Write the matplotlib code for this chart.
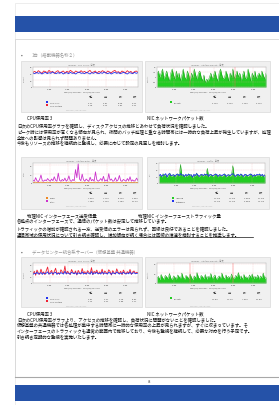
import matplotlib
matplotlib.use('Agg')
import matplotlib.pyplot as plt
import matplotlib.patches as patches
import numpy as np

plt.rcParams['font.family'] = ['Noto Sans CJK JP', 'DejaVu Sans']

W, H = 279, 406

# ---- chart data ----
cpu_user = [44, 47, 42, 49, 45, 41, 48, 46, 43, 50, 44, 47, 41, 46, 49, 43, 45, 48, 42, 47,
            44, 50, 46, 42, 48, 45, 43, 49, 44, 47, 42, 46, 50, 43, 45, 48, 41, 47, 44, 49,
            46, 42, 48, 45, 43, 47, 50, 44, 46, 42, 48, 45, 43, 49, 44, 47, 41, 46, 48, 44]
cpu_sys = [42, 40, 44, 41, 43, 39, 42, 44, 40, 43, 41, 45, 42, 40, 43, 41, 44, 39, 42, 43,
           40, 44, 41, 42, 39, 43, 45, 41, 42, 40, 44, 42, 39, 43, 41, 44, 42, 40, 43, 41,
           45, 42, 40, 43, 39, 42, 44, 41, 43, 40, 42, 44, 41, 39, 43, 42, 40, 44, 41, 43]

nic_pkts = [6, 8, 5, 7, 9, 4, 6, 8, 5, 3, 7, 9, 6, 4, 8, 5, 7, 3, 6, 9,
            5, 4, 8, 6, 3, 7, 5, 9, 6, 4, 7, 8, 5, 3, 6, 2, 4, 3, 5, 7,
            4, 6, 8, 5, 3, 7, 9, 6, 4, 5, 8, 6, 3, 7, 5, 9, 4, 6, 8, 5,
            7, 3, 6, 8, 4, 5, 9, 6, 3, 7, 5, 8, 4, 6, 7, 5, 8, 6, 4, 7]

if_err = [1, 1, 2, 1, 1, 1, 2, 1, 1, 1, 1, 2, 1, 1, 1, 1, 2, 1, 1, 1,
          1, 1, 2, 1, 1, 1, 1, 2, 1, 1, 1, 1, 2, 1, 1, 1, 1, 2, 1, 1,
          1, 1, 2, 1, 1, 1, 1, 2, 1, 1, 1, 1, 2, 1, 1, 1, 1, 2, 1, 1,
          1, 1, 2, 1, 1, 1, 1, 2, 1, 1, 1, 1, 2, 1, 1, 1, 1, 2, 1, 1]
if_bytes = [6, 4, 12, 5, 3, 8, 18, 5, 4, 7, 5, 10, 6, 4, 9, 5, 14, 6, 4, 22,
            6, 4, 8, 5, 11, 4, 7, 16, 5, 4, 8, 5, 30, 12, 43, 9, 5, 20, 7, 4,
            9, 6, 4, 13, 5, 8, 4, 25, 7, 4, 6, 10, 5, 15, 4, 7, 4, 21, 6, 9,
            4, 5, 12, 4, 7, 17, 5, 4, 8, 6, 4, 10, 5, 14, 4, 7, 4, 6, 11, 5]

traffic_in = [10, 12, 9, 14, 11, 13, 8, 12, 15, 10, 11, 13, 9, 12, 14, 10, 28, 11, 13, 9,
              12, 10, 14, 11, 13, 8, 12, 10, 15, 11, 9, 13, 12, 10, 14, 11, 22, 9, 12, 13,
              10, 11, 14, 12, 9, 13, 11, 10, 12, 14, 9, 11, 13, 10, 12, 26, 11, 9, 13, 12,
              10, 14, 11, 9, 12, 13, 10, 11, 14, 12, 9, 13, 10, 12, 11, 14, 10, 12, 9, 13]
traffic_out = [11, 13, 10, 12, 12, 14, 9, 13, 14, 11, 12, 12, 10, 13, 13, 11, 14, 12, 12, 10,
               13, 11, 13, 12, 12, 9, 13, 11, 14, 12, 10, 12, 13, 11, 13, 12, 13, 10, 13, 12,
               11, 12, 13, 13, 10, 12, 12, 11, 13, 13, 10, 12, 12, 11, 13, 14, 12, 10, 12, 13,
               11, 13, 12, 10, 13, 12, 11, 12, 13, 13, 10, 12, 11, 13, 12, 13, 11, 13, 10, 12]

cpu2_user = [30, 38, 25, 42, 33, 28, 45, 31, 36, 27, 40, 52, 29, 35, 41, 26, 37, 48, 30, 34,
             28, 43, 36, 31, 55, 29, 38, 33, 27, 44, 35, 30, 39, 26, 41, 34, 29, 47, 32, 37,
             28, 40, 35, 30, 50, 27, 38, 33, 42, 29, 36, 31, 45, 28, 39, 34, 30, 43, 37, 26,
             40, 33, 29, 46, 35, 31, 38, 27, 42, 34, 30, 37, 32, 44, 28, 36, 39, 31, 35, 33]
cpu2_sys = [28, 32, 30, 35, 29, 31, 34, 28, 33, 30, 32, 36, 29, 31, 34, 30, 33, 35, 28, 32,
            30, 34, 31, 29, 38, 30, 33, 31, 29, 35, 32, 30, 34, 28, 33, 31, 30, 36, 29, 32,
            30, 34, 31, 29, 37, 28, 33, 31, 35, 30, 32, 29, 36, 30, 33, 31, 29, 35, 32, 28,
            34, 31, 30, 36, 32, 29, 33, 30, 35, 31, 29, 33, 30, 36, 29, 32, 34, 30, 31, 32]

nic2_pkts = [9, 14, 7, 18, 11, 8, 16, 13, 9, 20, 10, 7, 15, 12, 8, 17, 13, 9, 21, 11,
             8, 16, 13, 9, 19, 11, 7, 15, 10, 22, 12, 8, 16, 13, 9, 18, 8, 14, 11, 20,
             9, 13, 17, 7, 11, 15, 9, 21, 12, 8, 17, 10, 14, 8, 19, 11, 9, 16, 13, 22,
             9, 15, 7, 18, 11, 13, 8, 17, 12, 19, 9, 14, 10, 17, 8, 15, 11, 21, 9, 13]

time_labels = ['12:00', '18:00', '00:00', '06:00', '12:00']
stat_heads = ['現在', '平均', '最小', '最大']

cpu_stats = [['44.21', '45.08', '40.90', '50.12'], ['42.10', '41.86', '39.02', '45.33']]
nic_stats = [['6.12 k', '5.84 k', '1.95 k', '9.61 k']]
if_stats = [['1.02 k', '1.21 k', '0.84 k', '2.05 k'], ['7.40 k', '8.12 k', '3.10 k', '43.2 k']]
traffic_stats = [['11.2 M', '11.9 M', '8.02 M', '28.4 M'], ['12.1 M', '12.3 M', '9.05 M', '14.1 M']]
cpu2_stats = [['33.02', '35.41', '25.10', '55.04'], ['32.15', '31.92', '28.00', '38.11']]
nic2_stats = [['13.0 k', '13.3 k', '7.01 k', '22.0 k']]

# ---- page text ----
heading1 = '1台（搭載機器名称２）'
heading3 = 'データセンター統合系サーバー（仮想基盤 共通機器）'
cap1 = ('CPU使用率 3', 'NIC ネットワークパケット数')
cap2 = ('物理NIC インターフェース送受信量', '物理NIC インターフェーストラフィック量')
cap3 = ('CPU使用率 3', 'NIC ネットワークパケット数')
para1 = ['日次のCPU使用率グラフを確認し、ディスクアクセスの推移とあわせて負荷状況を確認しました。',
         'ピーク時には使用率が高くなる傾向が見られ、夜間のバッチ処理と重なる時間帯には一時的な負荷上昇が発生していますが、処理',
         '全体への影響は見られず問題ありません。',
         '今後もリソースの推移を継続的に監視し、必要に応じて設定の見直しを検討します。']
para2 = ['各拠点のインターフェースで、通信のパケット数は安定して推移しています。',
         'トラフィックの増加が確認される一方、送受信のエラーは見られず、回線は良好であることを確認しました。',
         '通信帯域の使用状況について引き続き確認し、増加傾向が続く場合には回線の増速を検討することを推奨します。']
para3 = ['日次のCPU使用率グラフより、アクセスの推移を確認し、負荷状況に問題がないことを確認しました。',
         '仮想基盤の共通機器では各処理が集中する時間帯に一時的な使用率の上昇が見られますが、すぐに収まっています。そ',
         'インターフェースのトラフィックも通常の範囲内で推移しており、今後も監視を継続して、必要な対応を行う予定です。',
         '引き続き定期的な監視を実施いたします。']
page_no = '64'

fig = plt.figure(figsize=(W / 100, H / 100), dpi=100)
fig.patch.set_facecolor('white')


def add_box(x0, y0, x1, y1, face, edge='none', lw=0.4):
    fig.add_artist(patches.Rectangle((x0 / W, 1 - y1 / H), (x1 - x0) / W, (y1 - y0) / H,
                                     transform=fig.transFigure, facecolor=face,
                                     edgecolor=edge, linewidth=lw, zorder=-5))


def put_text(x, y, s, size=3.2, color='#111111', ha='left', **kw):
    fig.text(x / W, 1 - y / H, s, fontsize=size, color=color, ha=ha, va='center', **kw)


def draw_panel(box, title, ylabel, series, ylim, yticks, legend, stats, vlines=()):
    x0, y0, x1, y1 = box
    add_box(x0, y0, x1, y1, '#f0f0f0', '#d2d2d2', 0.4)
    put_text((x0 + x1) / 2, y0 + 3, title, size=1.5, color='#777777', ha='center')
    ax = fig.add_axes([(x0 + 12) / W, 1 - (y0 + 26) / H, (x1 - x0 - 16) / W, 20 / H])
    ax.set_facecolor('white')
    n = len(series[0][0])
    x = np.arange(n)
    for vals, color, kind in series:
        if kind == 'area':
            ax.fill_between(x, vals, color=color, lw=0)
            ax.plot(x, vals, color='#119911', lw=0.3)
        else:
            ax.plot(x, vals, color=color, lw=0.6)
    for v in vlines:
        ax.axvline(v * (n - 1), color='#ff6666', lw=0.3)
    ax.set_xlim(0, n - 1)
    ax.set_ylim(*ylim)
    ax.set_yticks(yticks)
    ax.set_yticklabels([str(t) for t in yticks])
    ax.set_xticks([(n - 1) * f for f in (0.16, 0.33, 0.52, 0.70, 0.88)])
    ax.set_xticklabels(time_labels)
    ax.tick_params(length=0, labelsize=1.5, pad=0.8, colors='#444444')
    ax.grid(color='#f0a8a8', lw=0.25, ls=(0, (1, 1)))
    for sp in ax.spines.values():
        sp.set_color('#aaaaaa')
        sp.set_linewidth(0.3)
    put_text(x0 + 3, y0 + 16, ylabel, size=1.4, color='#888888', ha='center', rotation=90)
    put_text((x0 + x1) / 2, y0 + 30, '2013/01/14 12:00  -  2013/01/15 12:00', size=1.5,
             color='#444444', ha='center')
    cols = [x0 + 70, x0 + 85, x0 + 100, x0 + 114]
    for cx, head in zip(cols, stat_heads):
        put_text(cx, y0 + 35, head, size=1.5, color='#444444', ha='center')
    for i, ((lab, color), row) in enumerate(zip(legend, stats)):
        yy = y0 + 41 + i * 3
        add_box(x0 + 25, yy - 1, x0 + 27, yy + 1, color)
        put_text(x0 + 28.5, yy, lab, size=1.5, color='#444444')
        for cx, v in zip(cols, row):
            put_text(cx, yy, v, size=1.5, color='#444444', ha='center')
    put_text(x0 + 55, y0 + 48, 'RRDTOOL / TOBI OETIKER', size=1.2, color='#bbbbbb', ha='center')


# page frame, header and footer
add_box(15, 4, 300, 420, 'white', '#e6e6e6', 0.5)
add_box(15, 17, 290, 33, '#2552a8')
add_box(15, 40, 290, 378, 'white', '#cfcfcf', 0.5)
fig.add_artist(plt.Line2D([15 / W, 1], [1 - 378 / H, 1 - 378 / H],
                          transform=fig.transFigure, color='#a8a8a8', lw=0.8))
add_box(15, 386, 290, 402, '#2552a8')
put_text(150, 382.5, page_no, size=2.2, color='#555555', ha='center')

RED, BLUE, GREEN, MAGENTA, ORANGE = '#ee2233', '#2233ee', '#22cc22', '#cc33cc', '#ee8822'

# row 1
put_text(21, 55, '•', size=3.5, color='#555555')
put_text(32, 55, heading1, size=3.2, color='#999999')
draw_panel((21, 62, 142, 113), 'server01 - CPU Usage - 日次', 'percent',
           [(cpu_user, RED, 'line'), (cpu_sys, BLUE, 'line')], (0, 60), [0, 20, 40, 60],
           [('CPU User', BLUE), ('CPU System', RED)], cpu_stats)
draw_panel((145, 62, 270, 113), 'server01 - Interface Packets - 日次', 'packets',
           [(nic_pkts, GREEN, 'area')], (0, 10), [0, 2.5, 5, 7.5, 10],
           [('Packets', GREEN)], nic_stats, vlines=(0.3, 0.72))
put_text(27, 118, cap1[0])
put_text(147, 118, cap1[1])
for i, line in enumerate(para1):
    put_text(17, 125.5 + i * 6.2, line)

# row 2
draw_panel((21, 158, 142, 210), 'server01 - Interface Bytes - 日次', 'bytes',
           [(if_err, ORANGE, 'line'), (if_bytes, MAGENTA, 'line')], (0, 45), [0, 20, 40],
           [('Errors', ORANGE), ('Bytes', MAGENTA)], if_stats)
draw_panel((147, 158, 269, 210), 'server01 - Traffic - 日次', 'bits',
           [(traffic_in, GREEN, 'area'), (traffic_out, BLUE, 'line')], (0, 30), [0, 10, 20, 30],
           [('Inbound', GREEN), ('Outbound', BLUE)], traffic_stats)
put_text(27, 216, cap2[0])
put_text(138, 216, cap2[1])
for i, line in enumerate(para2):
    put_text(17, 222 + i * 6.5, line)
fig.add_artist(plt.Line2D([17 / W, 253 / W], [1 - 237.5 / H, 1 - 237.5 / H],
                          transform=fig.transFigure, color='#111111', lw=0.5))

# row 3
put_text(21, 252, '•', size=3.5, color='#555555')
put_text(32, 252, heading3, size=3.2, color='#999999')
draw_panel((21, 258, 142, 308), 'server02 - CPU Usage - 日次', 'percent',
           [(cpu2_user, RED, 'line'), (cpu2_sys, BLUE, 'line')], (0, 65), [0, 20, 40, 60],
           [('CPU User', BLUE), ('CPU System', RED)], cpu2_stats)
draw_panel((145, 258, 270, 308), 'server02 - Interface Packets - 日次', 'packets',
           [(nic2_pkts, GREEN, 'area')], (0, 42), [0, 20, 40],
           [('Packets', GREEN)], nic2_stats, vlines=(0.3, 0.7))
put_text(27, 314, cap3[0])
put_text(147, 314, cap3[1])
for i, line in enumerate(para3):
    put_text(17, 320 + i * 5.9, line)

fig.savefig('out.png', dpi=100)
